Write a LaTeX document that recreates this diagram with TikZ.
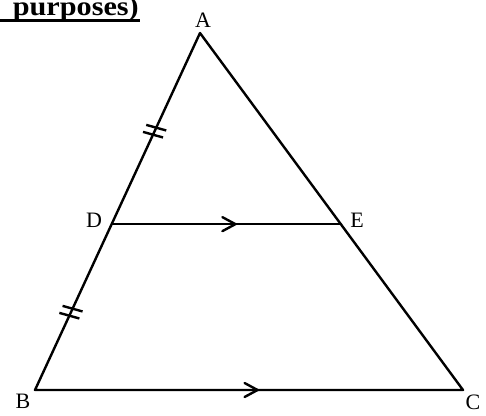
\documentclass[tikz,border=0pt]{standalone}
\usepackage{fontspec}
\setmainfont{Liberation Serif}
\usetikzlibrary{decorations.markings,calc}
\tikzset{
  seg/.style={line width=2.4pt, line cap=round, line join=round},
  lbl/.style={font=\fontsize{22}{22}\selectfont, inner sep=0pt},
  tick/.style={line width=2.4pt},
  midarrow/.style={postaction={decorate}, decoration={markings,
    mark=at position #1 with {\draw[line width=2.4pt, line cap=round, line join=miter] (-13pt,7pt) -- (0,0) -- (-13pt,-7pt);}}}
}
\begin{document}
\begin{tikzpicture}[x=1pt,y=-1pt]
\useasboundingbox (0,0) rectangle (486,415);
% header fragment
\node[anchor=base east, inner sep=0pt] (hdr) at (139,15) {\scalebox{1.12}[1]{\fontsize{27}{27}\selectfont\bfseries purposes)}};
\draw[line width=3pt] (0,20) -- (140,20);
% points
\coordinate (A) at (200,33);
\coordinate (B) at (35,390);
\coordinate (C) at (463,390);
\coordinate (D) at ($(B)!0.4646!(A)$);
\coordinate (E) at ($(C)!0.4646!(A)$);
% sides
\draw[seg] (B) -- (A) -- (C) -- cycle;
\draw[seg, midarrow=0.54] (D) -- (E);
\draw[seg, midarrow=0.52] (B) -- (C);
% equal-length ticks
\coordinate (t1) at ($(B)!0.725!(A)$);
\coordinate (t2) at ($(B)!0.218!(A)$);
\foreach \t in {t1,t2}{
  \draw[tick] ($(\t)+(1.6,-3.5)+(-10,-2.8)$) -- ($(\t)+(1.6,-3.5)+(10,2.8)$);
  \draw[tick] ($(\t)+(-1.6,3.5)+(-10,-2.8)$) -- ($(\t)+(-1.6,3.5)+(10,2.8)$);
}
% labels
\node[lbl] (lA) at (203,20) {A};
\node[lbl] (lB) at (23,401) {B};
\node[lbl] (lC) at (473,402) {C};
\node[lbl] (lD) at (94,220) {D};
\node[lbl] (lE) at (357,220) {E};
\end{tikzpicture}
\end{document}
